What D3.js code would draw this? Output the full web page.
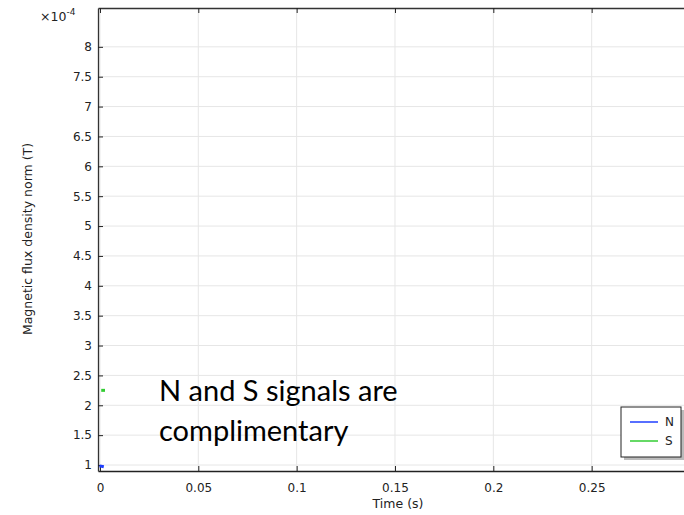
<!DOCTYPE html>
<html><head><meta charset="utf-8">
<script src="https://cdn.jsdelivr.net/npm/d3@7"></script>
<style>body{margin:0;background:#fff;}svg{display:block;}</style>
</head><body>
<svg id="c" width="684" height="515"></svg>
<script>
// data (y values in units of 1e-4 T)
const seriesNames = ["N", "S"];
const seriesColors = ["#1f3fff", "#33cc33"];
const nTime = [0.0005, 0.0012];
const nValue = [0.98, 0.975];
const sTime = [0.0014, 0.0018];
const sValue = [2.25, 2.25];
const xTicks = [0, 0.05, 0.1, 0.15, 0.2, 0.25];
const yTicks = [1, 1.5, 2, 2.5, 3, 3.5, 4, 4.5, 5, 5.5, 6, 6.5, 7, 7.5, 8];

const svg = d3.select("#c");
const L = 98, T = 8, R = 690, B = 471;
const x = d3.scaleLinear().domain([-0.001, 0.3]).range([L, R]);
const y = d3.scaleLinear().domain([0.9, 8.65]).range([B, T]);
const font = "'DejaVu Sans', sans-serif";
const fs = 12;

// grid
const g = svg.append("g");
g.selectAll(".gx").data(xTicks).join("line")
  .attr("x1", d => x(d)).attr("x2", d => x(d)).attr("y1", T).attr("y2", B)
  .attr("stroke", "#e6e6e6").attr("stroke-width", 1);
g.selectAll(".gy").data(yTicks).join("line")
  .attr("x1", L).attr("x2", R).attr("y1", d => y(d)).attr("y2", d => y(d))
  .attr("stroke", "#e6e6e6").attr("stroke-width", 1);

// axes
const ax = svg.append("g").attr("transform", `translate(0,${B})`)
  .call(d3.axisBottom(x).tickValues(xTicks).tickFormat(d3.format("~g")).tickSizeInner(-5).tickSizeOuter(0).tickPadding(12));
const ay = svg.append("g").attr("transform", `translate(${L},0)`)
  .call(d3.axisLeft(y).tickValues(yTicks).tickFormat(d3.format("~g")).tickSizeInner(-5).tickSizeOuter(0).tickPadding(6));
const axt = svg.append("g").attr("transform", `translate(0,${T})`)
  .call(d3.axisTop(x).tickValues(xTicks).tickFormat("").tickSizeInner(-5).tickSizeOuter(0));
[ax, ay, axt].forEach(a => {
  a.select(".domain").attr("stroke", "#333").attr("stroke-width", 1.3);
  a.selectAll(".tick line").attr("stroke", "#222");
  a.selectAll(".tick text").attr("font-family", font).attr("font-size", fs).attr("fill", "#222");
});
ax.select(".domain").attr("stroke", "#222");

// lines
const line = d3.line().x(d => x(d[0])).y(d => y(d[1]));
const data = [d3.zip(nTime, nValue), d3.zip(sTime, sValue)];
svg.selectAll(".ser").data(data).join("path")
  .attr("d", line).attr("fill", "none")
  .attr("stroke", (d, i) => seriesColors[i]).attr("stroke-width", 3).attr("stroke-linecap", "square");

// multiplier
const m = svg.append("text").attr("x", 40).attr("y", 21).attr("font-family", font).attr("font-size", 12.5).attr("fill", "#222");
m.append("tspan").text("×10");
m.append("tspan").attr("dy", -6).attr("font-size", 9).text("-4");

// axis titles
svg.append("text").attr("x", 398).attr("y", 508).attr("text-anchor", "middle")
  .attr("font-family", font).attr("font-size", 12.5).attr("fill", "#222").text("Time (s)");
svg.append("text").attr("transform", `translate(32,239) rotate(-90)`).attr("text-anchor", "middle")
  .attr("font-family", font).attr("font-size", 12.5).attr("fill", "#222").text("Magnetic flux density norm (T)");

// legend
const lg = svg.append("g").attr("transform", "translate(621,407)");
lg.append("rect").attr("x", 3).attr("y", 3).attr("width", 60).attr("height", 50).attr("fill", "#bbb");
lg.append("rect").attr("x", 0).attr("y", 0).attr("width", 60).attr("height", 50).attr("fill", "#fff").attr("stroke", "#222");
seriesNames.forEach((n, i) => {
  lg.append("line").attr("x1", 9).attr("x2", 37).attr("y1", 15 + i * 19).attr("y2", 15 + i * 19)
    .attr("stroke", seriesColors[i]).attr("stroke-width", 1.5);
  lg.append("text").attr("x", 44).attr("y", 19 + i * 19).attr("font-family", font).attr("font-size", fs).attr("fill", "#222").text(n);
});

// annotation
const ann = svg.append("text").attr("font-family", "Lato, sans-serif").attr("font-size", 29).attr("fill", "#000");
ann.append("tspan").attr("x", 159).attr("y", 401).text("N and S signals are");
ann.append("tspan").attr("x", 159).attr("y", 441).text("complimentary");
</script>
</body></html>
